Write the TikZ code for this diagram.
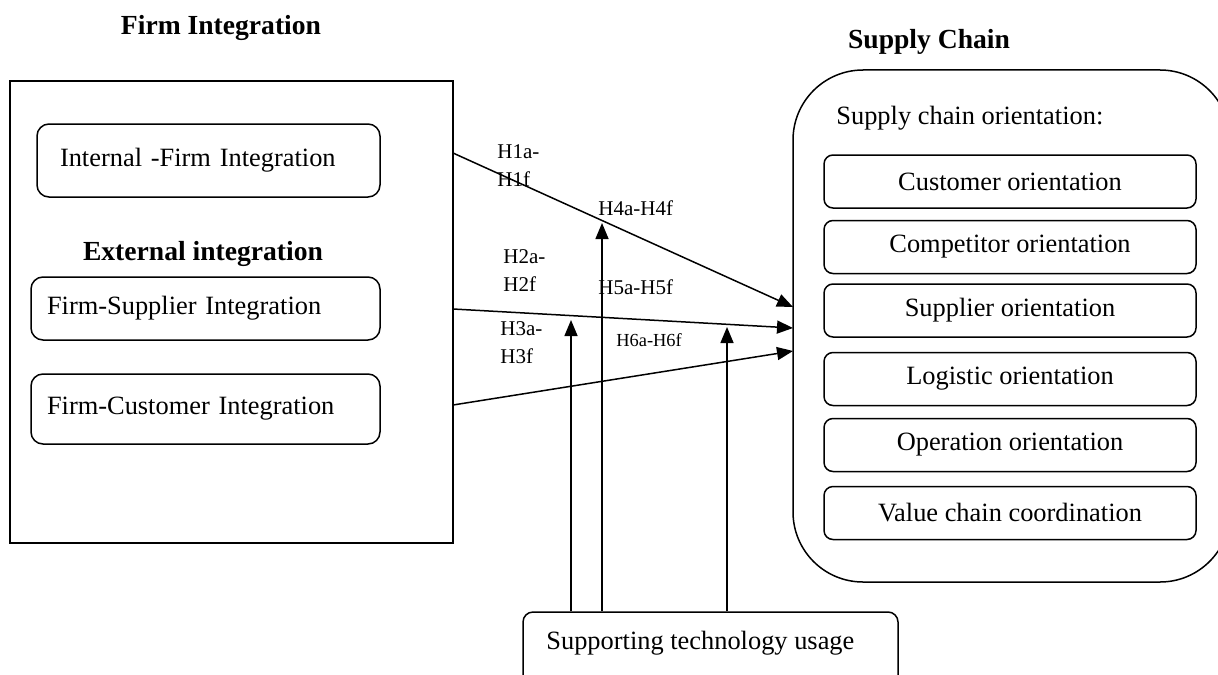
\documentclass[tikz,border=0pt]{standalone}
\usepackage{fontspec}
\setmainfont{Liberation Serif}
\usetikzlibrary{arrows.meta}
\begin{document}
\begin{tikzpicture}[x=0.5pt,y=-0.5pt,
  frame/.style={draw, line width=0.75pt, inner sep=0pt},
  ibox/.style={draw, rounded corners=6pt, line width=0.75pt, inner sep=0pt, font=\fontsize{13.2}{15}\selectfont},
  obox/.style={draw, rounded corners=4.5pt, line width=0.75pt, inner sep=0pt, minimum width=186pt, minimum height=26.5pt, font=\fontsize{13.2}{15}\selectfont},
  title/.style={font=\fontsize{13.8}{16}\selectfont\bfseries, inner sep=0pt},
  plain/.style={font=\fontsize{13.2}{15}\selectfont, inner sep=0pt, anchor=west},
  arr/.style={-{Triangle[length=8pt,width=6.5pt]}, line width=0.75pt},
  hlab/.style={font=\fontsize{10.5}{14}\selectfont, align=left, anchor=west, inner sep=0pt}]
\clip (0,0) rectangle (1218,674);
\useasboundingbox (0,0) rectangle (1218,674);

% titles
\node[title] (t1) at (221,28) {Firm Integration};
\node[title] (t2) at (929,42) {Supply Chain};

% left frame
\node[frame, minimum width=221.5pt, minimum height=231pt] (frame) at (231.5,312) {};
\node[ibox, minimum width=171.5pt, minimum height=36.5pt, text width=148.5pt, inner xsep=11.5pt, align=left] (int) at (208.5,160.5) {Internal -Firm Integration};
\node[title] (ext) at (203,254) {External integration};
\node[ibox, minimum width=174.5pt, minimum height=31.5pt, text width=158.5pt, inner xsep=8pt, align=left] (sup) at (205.5,308.5) {Firm-Supplier Integration};
\node[ibox, minimum width=174.5pt, minimum height=35pt, text width=158.5pt, inner xsep=8pt, align=left] (cus) at (205.5,409) {Firm-Customer Integration};

% right container (its right side runs past the page edge)
\node[frame, rounded corners=35pt, minimum width=218.5pt, minimum height=256pt] (sc) at (1011.5,326) {};
\node[plain] (sco) at (836,118) {Supply chain orientation:};
\node[obox] (o1) at (1010,181.5) {Customer orientation};
\node[obox] (o2) at (1010,247) {Competitor orientation};
\node[obox] (o3) at (1010,310.5) {Supplier orientation};
\node[obox] (o4) at (1010,379) {Logistic orientation};
\node[obox] (o5) at (1010,445) {Operation orientation};
\node[obox] (o6) at (1010,513) {Value chain coordination};

% technology box
\node[ibox, rounded corners=5pt, minimum width=187.5pt, minimum height=39pt] (tech) at (710.5,651) {};
\node[plain] (techt) at (546,643) {Supporting technology usage};

% connector end points
\coordinate (s1) at (453,153);
\coordinate (s2) at (453,309);
\coordinate (s3) at (453,405);
\coordinate (e1) at (793,307);
\coordinate (e2) at (793,328);
\coordinate (e3) at (793,351);
\coordinate (v1) at (571,320);
\coordinate (v2) at (602,223);
\coordinate (v3) at (727,327);

\draw[arr] (s1) -- (e1);
\draw[arr] (s2) -- (e2);
\draw[arr] (s3) -- (e3);
\draw[arr] (tech.north -| v1) -- (v1);
\draw[arr] (tech.north -| v2) -- (v2);
\draw[arr] (tech.north -| v3) -- (v3);

% hypothesis labels
\node[hlab] (h1) at (497,166) {H1a-\\H1f};
\node[hlab] (h2) at (503,271) {H2a-\\H2f};
\node[hlab] (h3) at (500,343) {H3a-\\H3f};
\node[hlab] (h4) at (598,208) {H4a-H4f};
\node[hlab] (h5) at (598,287) {H5a-H5f};
\node[hlab, font=\fontsize{9.2}{11}\selectfont] (h6) at (616,340) {H6a-H6f};
\end{tikzpicture}
\end{document}
